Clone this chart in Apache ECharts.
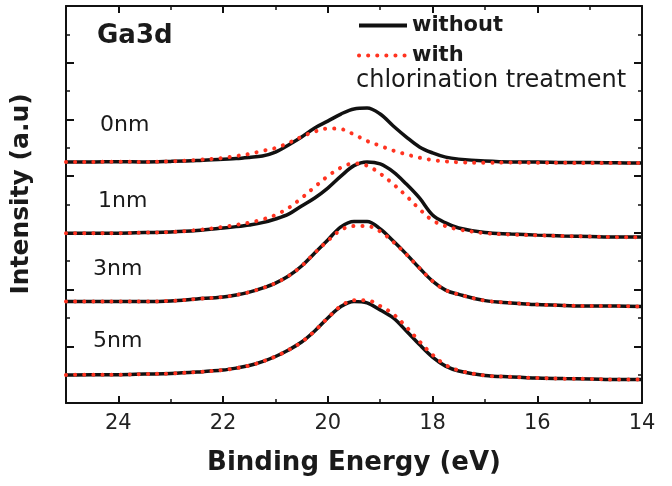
<!DOCTYPE html>
<html>
<head>
<meta charset="utf-8">
<script src="https://cdn.jsdelivr.net/npm/echarts@6/dist/echarts.min.js"></script>
<style>html,body{margin:0;padding:0;background:#fff;}#c{width:672px;height:486px;}</style>
</head>
<body>
<div id="c"></div>
<script>
// Binding energy (eV)
var energy = [25,24.5,24,23.5,23,22.5,22,21.75,21.5,21.25,21,20.75,20.5,20.25,20,19.75,19.5,19.25,19,18.75,18.5,18.25,18,17.75,17.5,17,16.5,16,15.5,15,14.5,14];
// Offset intensities (a.u.) for each thickness, without / with chlorination treatment
var without0 = [8.50,8.50,8.51,8.50,8.52,8.55,8.60,8.62,8.66,8.71,8.85,9.10,9.38,9.70,9.94,10.19,10.37,10.40,10.19,9.77,9.38,9.03,8.82,8.67,8.60,8.53,8.50,8.50,8.48,8.48,8.47,8.46];
var with0    = [8.50,8.50,8.51,8.50,8.52,8.57,8.64,8.71,8.78,8.89,8.99,9.17,9.39,9.57,9.68,9.66,9.47,9.24,9.07,8.90,8.77,8.65,8.57,8.52,8.49,8.47,8.48,8.47,8.47,8.46,8.46,8.46];
var without1 = [5.99,5.99,5.99,6.01,6.03,6.08,6.17,6.22,6.28,6.36,6.49,6.66,6.95,7.23,7.58,8.00,8.37,8.50,8.43,8.15,7.72,7.23,6.63,6.35,6.17,6.01,5.96,5.92,5.89,5.87,5.85,5.85];
var with1    = [5.99,5.99,5.99,6.01,6.03,6.10,6.21,6.28,6.36,6.47,6.63,6.88,7.23,7.62,8.00,8.30,8.45,8.37,8.09,7.72,7.30,6.84,6.44,6.24,6.12,5.99,5.94,5.91,5.89,5.87,5.85,5.84];
var without3 = [3.58,3.58,3.58,3.58,3.60,3.67,3.74,3.81,3.91,4.05,4.23,4.48,4.83,5.29,5.75,6.21,6.40,6.40,6.14,5.71,5.25,4.76,4.30,3.98,3.83,3.61,3.53,3.47,3.44,3.42,3.42,3.40];
var with3    = [3.58,3.58,3.58,3.58,3.60,3.67,3.74,3.81,3.91,4.05,4.23,4.48,4.83,5.29,5.72,6.10,6.24,6.24,6.05,5.68,5.24,4.76,4.30,3.98,3.83,3.61,3.53,3.47,3.44,3.42,3.42,3.40];
var without5 = [0.99,1.00,1.00,1.02,1.04,1.09,1.16,1.23,1.32,1.46,1.64,1.87,2.15,2.54,3.00,3.40,3.58,3.53,3.28,3.00,2.54,2.06,1.62,1.30,1.13,0.97,0.92,0.88,0.86,0.85,0.83,0.83];
var with5    = [0.99,1.00,1.00,1.02,1.04,1.09,1.16,1.23,1.32,1.46,1.64,1.87,2.15,2.54,3.00,3.42,3.62,3.62,3.42,3.13,2.68,2.17,1.70,1.34,1.15,0.97,0.92,0.88,0.86,0.85,0.83,0.83];
var thicknessLabels = ['0nm','1nm','3nm','5nm'];
var xTicks = [14,16,18,20,22,24];

function pairs(vals){ return energy.map(function(e,i){ return [e, vals[i]]; }); }

var BLACK = '#111111';
var RED = '#ff3320';
var FONT = 'DejaVu Sans';

function blackSeries(vals){
  return {name:'without', type:'line', data:pairs(vals), symbol:'none', smooth:0.35, z:2,
    lineStyle:{color:BLACK, width:3.5}, itemStyle:{color:BLACK}};
}
function redSeries(vals){
  return {name:'with', type:'line', data:pairs(vals), symbol:'none', smooth:0.35, z:3,
    lineStyle:{color:RED, width:4, type:[0.1,9], cap:'round'}, itemStyle:{color:RED}};
}

var baseX = {type:'value', min:14, max:25, inverse:true, splitLine:{show:false},
  axisLine:{onZero:false, lineStyle:{color:BLACK, width:2}}};

var chart = echarts.init(document.getElementById('c'), null, {renderer:'canvas'});
chart.setOption({
  animation:false,
  backgroundColor:'#ffffff',
  grid:{left:66, right:30, top:6, bottom:83},
  legend:{data:['without','with'], left:352, top:10, orient:'vertical', itemWidth:48, itemHeight:14, itemGap:9,
    selectedMode:false, itemStyle:{opacity:0}, lineStyle:{width:4},
    textStyle:{fontFamily:FONT, fontWeight:'bold', fontSize:21, color:'#1a1a1a'}},
  xAxis:[
    Object.assign({}, baseX, {position:'bottom', interval:2,
      axisTick:{inside:true, length:7, lineStyle:{color:BLACK, width:2}},
      axisLabel:{fontFamily:FONT, fontSize:21, color:'#222', margin:10, showMaxLabel:false,
        formatter:function(v){ return xTicks.indexOf(v) >= 0 ? String(v) : ''; }},
      name:'Binding Energy (eV)', nameLocation:'middle', nameGap:47,
      nameTextStyle:{fontFamily:FONT, fontWeight:'bold', fontSize:26, color:'#1a1a1a'}}),
    Object.assign({}, baseX, {position:'bottom', interval:1, axisLine:{show:false, onZero:false},
      axisTick:{inside:true, length:4, lineStyle:{color:BLACK, width:1.5}}, axisLabel:{show:false}}),
    Object.assign({}, baseX, {position:'top', interval:2,
      axisTick:{inside:true, length:7, lineStyle:{color:BLACK, width:2}}, axisLabel:{show:false}}),
    Object.assign({}, baseX, {position:'top', interval:1, axisLine:{show:false, onZero:false},
      axisTick:{inside:true, length:4, lineStyle:{color:BLACK, width:1.5}}, axisLabel:{show:false}})
  ],
  yAxis:[
    {type:'value', position:'left', min:0, max:14, interval:2, splitLine:{show:false},
      axisLine:{show:true, onZero:false, lineStyle:{color:BLACK, width:2}},
      axisTick:{show:true, inside:true, length:8, lineStyle:{color:BLACK, width:2}},
      minorTick:{show:true, splitNumber:2, length:4, lineStyle:{color:BLACK, width:1.5}},
      axisLabel:{show:false}},
    {type:'value', position:'right', min:0, max:14, interval:2, splitLine:{show:false},
      axisLine:{show:true, onZero:false, lineStyle:{color:BLACK, width:2}},
      axisTick:{show:true, inside:true, length:8, lineStyle:{color:BLACK, width:2}},
      minorTick:{show:true, splitNumber:2, length:4, lineStyle:{color:BLACK, width:1.5}},
      axisLabel:{show:false}}
  ],
  graphic:[
    {type:'text', left:97, top:23, style:{text:'Ga3d', font:'bold 26px "DejaVu Sans"', fill:'#1a1a1a'}},
    {type:'text', left:100, top:114, style:{text:thicknessLabels[0], font:'22px "DejaVu Sans"', fill:'#1a1a1a'}},
    {type:'text', left:98, top:190, style:{text:thicknessLabels[1], font:'22px "DejaVu Sans"', fill:'#1a1a1a'}},
    {type:'text', left:93, top:258, style:{text:thicknessLabels[2], font:'22px "DejaVu Sans"', fill:'#1a1a1a'}},
    {type:'text', left:93, top:330, style:{text:thicknessLabels[3], font:'22px "DejaVu Sans"', fill:'#1a1a1a'}},
    {type:'text', left:356, top:69, style:{text:'chlorination treatment', font:'24px "DejaVu Sans"', fill:'#1a1a1a'}},
    {type:'text', x:21, y:194, rotation:Math.PI/2, style:{text:'Intensity (a.u)', font:'bold 25px "DejaVu Sans"', fill:'#1a1a1a', align:'center', verticalAlign:'middle'}}
  ],
  series:[
    blackSeries(without0), redSeries(with0),
    blackSeries(without1), redSeries(with1),
    blackSeries(without3), redSeries(with3),
    blackSeries(without5), redSeries(with5)
  ]
});
</script>
</body>
</html>
